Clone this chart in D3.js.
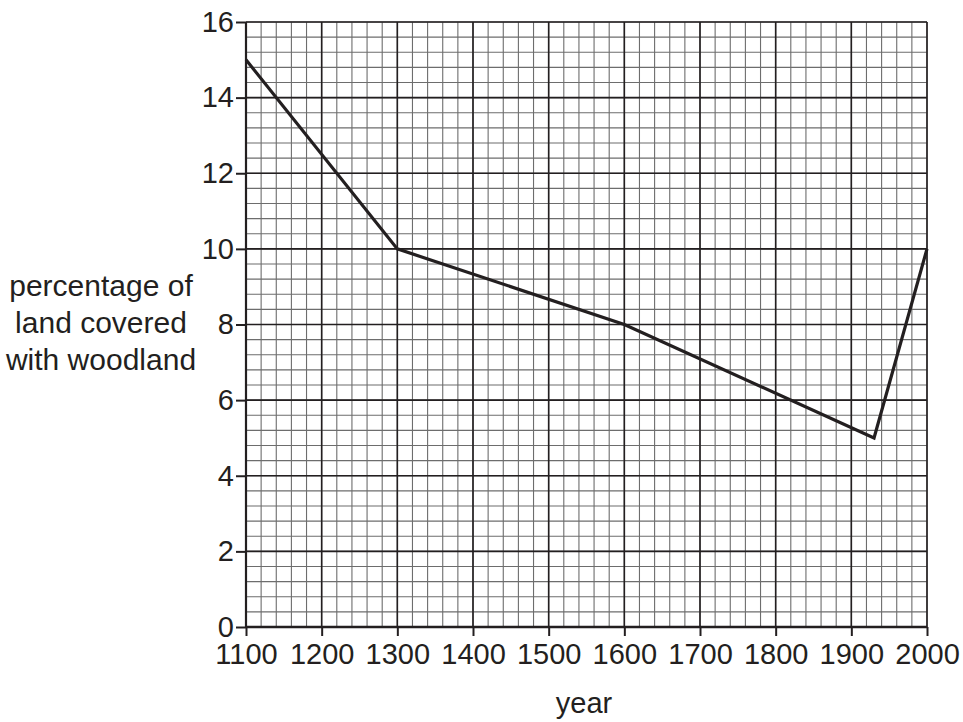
<!DOCTYPE html>
<html><head><meta charset="utf-8">
<script src="https://cdn.jsdelivr.net/npm/d3@7"></script>
<style>body{margin:0;background:#fff}svg{display:block}</style>
</head><body>
<svg id="c" width="963" height="722"></svg>
<script>
const years = [1100, 1300, 1600, 1930, 2000];
const woodland = [15, 10, 8, 5, 10];
const xTicks = [1100,1200,1300,1400,1500,1600,1700,1800,1900,2000];
const yTicks = [0,2,4,6,8,10,12,14,16];
const yLabelLines = ["percentage of","land covered","with woodland"];
const xLabel = "year";

const ink = "#231f20";
const svg = d3.select("#c");
const x = d3.scaleLinear().domain([1100,2000]).range([246,927]);
const y = d3.scaleLinear().domain([0,16]).range([627,22]);
const font = "Liberation Sans, Arial, sans-serif";
const fs = "29px";

const g = svg.append("g");
// minor grid
const minorX = d3.range(1100, 2001, 20);
const minorY = d3.range(0, 16.001, 0.4);
g.selectAll(".mx").data(minorX).enter().append("line")
  .attr("x1",d=>x(d)).attr("x2",d=>x(d)).attr("y1",y(0)).attr("y2",y(16))
  .attr("stroke","#6d6d6d").attr("stroke-width",1.1);
g.selectAll(".my").data(minorY).enter().append("line")
  .attr("y1",d=>y(d)).attr("y2",d=>y(d)).attr("x1",x(1100)).attr("x2",x(2000))
  .attr("stroke","#6d6d6d").attr("stroke-width",1.1);
// major grid
g.selectAll(".Mx").data(xTicks).enter().append("line")
  .attr("x1",d=>x(d)).attr("x2",d=>x(d)).attr("y1",y(0)).attr("y2",y(16))
  .attr("stroke",ink).attr("stroke-width",1.6);
g.selectAll(".My").data(yTicks).enter().append("line")
  .attr("y1",d=>y(d)).attr("y2",d=>y(d)).attr("x1",x(1100)).attr("x2",x(2000))
  .attr("stroke",ink).attr("stroke-width",1.6);

// axes
const xa = svg.append("g").attr("transform",`translate(0,${y(0)})`)
  .call(d3.axisBottom(x).tickValues(xTicks).tickFormat(d3.format("d")).tickSize(9).tickPadding(7));
const ya = svg.append("g").attr("transform",`translate(${x(1100)},0)`)
  .call(d3.axisLeft(y).tickValues(yTicks).tickFormat(d3.format("d")).tickSize(10).tickPadding(2));
[xa,ya].forEach(a=>{
  a.select(".domain").remove();
  a.selectAll(".tick line").attr("stroke",ink).attr("stroke-width",2);
  a.selectAll("text").attr("fill",ink).attr("font-family",font).attr("font-size",fs)
    .style("font-family",font).style("font-size",fs);
});
// axis lines
svg.append("line").attr("x1",x(1100)).attr("x2",x(1100)).attr("y1",y(0)).attr("y2",y(16)).attr("stroke",ink).attr("stroke-width",2.2);
svg.append("line").attr("x1",x(1100)).attr("x2",x(2000)).attr("y1",y(0)).attr("y2",y(0)).attr("stroke",ink).attr("stroke-width",2.4);

// data line
const pts = years.map((yr,i)=>[yr,woodland[i]]);
svg.append("path").datum(pts)
  .attr("d", d3.line().x(d=>x(d[0])).y(d=>y(d[1])))
  .attr("fill","none").attr("stroke",ink).attr("stroke-width",3.2).attr("stroke-linejoin","miter");

// labels
svg.append("text").attr("x",584).attr("y",713).attr("text-anchor","middle")
  .attr("fill",ink).style("font-family",font).style("font-size",fs).text(xLabel);
const yl = svg.append("text").attr("text-anchor","middle").attr("fill",ink)
  .style("font-family",font).style("font-size","30px");
yLabelLines.forEach((t,i)=>yl.append("tspan").attr("x",101).attr("y",296+i*37).text(t));
</script>
</body></html>
